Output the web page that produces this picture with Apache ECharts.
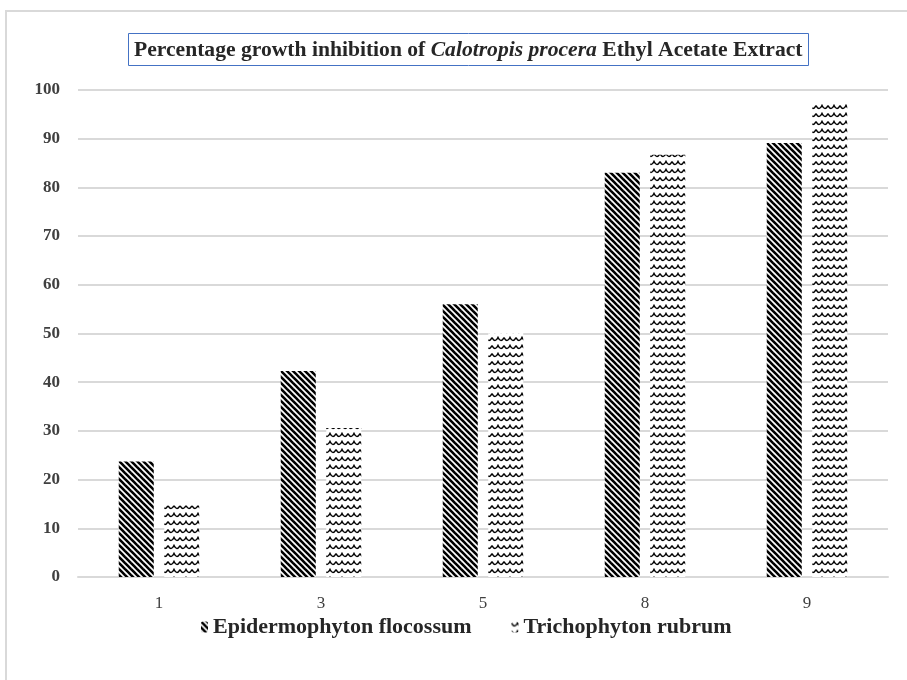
<!DOCTYPE html>
<html>
<head>
<meta charset="utf-8">
<title>Percentage growth inhibition</title>
<script src="https://cdn.jsdelivr.net/npm/echarts@6/dist/echarts.min.js"></script>
<style>
  html, body { margin: 0; padding: 0; background: #fff; }
  #chart { width: 907px; height: 680px; }
</style>
</head>
<body>
<div id="chart"></div>
<script>
var categories = ['1', '3', '5', '8', '9'];
var epidermophyton = [23.7, 42.3, 56.0, 83.0, 89.1];
var trichophyton = [14.7, 30.6, 50.1, 86.7, 97.3];
var yTicks = [0, 10, 20, 30, 40, 50, 60, 70, 80, 90, 100];

// diagonal stripe fill
function stripes() {
    var c = document.createElement('canvas');
    c.width = 6; c.height = 6;
    var g = c.getContext('2d');
    g.fillStyle = '#fff';
    g.fillRect(0, 0, 6, 6);
    g.strokeStyle = '#000';
    g.lineWidth = 2.6;
    for (var k = -6; k <= 6; k += 6) {
        g.beginPath();
        g.moveTo(k - 1, -1);
        g.lineTo(k + 7, 7);
        g.stroke();
    }
    return c;
}

// wavy fill
function waves() {
    var c = document.createElement('canvas');
    c.width = 12; c.height = 8;
    var g = c.getContext('2d');
    g.fillStyle = '#fff';
    g.fillRect(0, 0, 12, 8);
    g.strokeStyle = '#000';
    g.lineWidth = 1.6;
    g.beginPath();
    g.moveTo(0, 1.5);
    g.quadraticCurveTo(3, 7.5, 6, 1.5);
    g.quadraticCurveTo(9, 7.5, 12, 1.5);
    g.stroke();
    return c;
}

var chart = echarts.init(document.getElementById('chart'), null, { renderer: 'canvas' });
var serif = '"Liberation Serif", "Times New Roman", serif';

chart.setOption({
    backgroundColor: '#fff',
    animation: false,
    title: {
        text: '{b|Percentage growth inhibition of }{i|Calotropis procera}{b| Ethyl Acetate Extract}',
        left: 128,
        top: 32,
        borderColor: '#4472C4',
        borderWidth: 1,
        padding: [6, 6, 5, 6],
        textStyle: {
            rich: {
                b: { fontFamily: serif, fontWeight: 'bold', fontSize: 21.6, lineHeight: 24, color: '#262626' },
                i: { fontFamily: serif, fontStyle: 'italic', fontSize: 21.6, lineHeight: 24, color: '#262626' }
            }
        }
    },
    graphic: [{
        type: 'rect',
        shape: { x: 6, y: 11, width: 920, height: 700 },
        style: { fill: 'none', stroke: '#d9d9d9', lineWidth: 2 },
        silent: true
    }],
    legend: {
        top: 611,
        left: 196,
        itemWidth: 7,
        itemHeight: 11,
        itemGap: 40,
        textStyle: { fontFamily: serif, fontWeight: 'bold', fontSize: 22, color: '#262626' },
        data: ['Epidermophyton flocossum', 'Trichophyton rubrum']
    },
    grid: { left: 78, right: 19, top: 90, bottom: 103 },
    xAxis: {
        type: 'category',
        data: categories,
        axisLine: { lineStyle: { color: '#d9d9d9', width: 2 } },
        axisTick: { show: false },
        axisLabel: { margin: 18, fontFamily: serif, fontSize: 17, color: '#404040' }
    },
    yAxis: {
        type: 'value',
        min: yTicks[0],
        max: yTicks[yTicks.length - 1],
        interval: 10,
        axisLabel: { margin: 18, fontFamily: serif, fontWeight: 'bold', fontSize: 17, color: '#404040' },
        splitLine: { lineStyle: { color: '#d9d9d9', width: 2 } }
    },
    series: [
        {
            name: 'Epidermophyton flocossum',
            type: 'bar',
            data: epidermophyton,
            barWidth: 35,
            barGap: '30%',
            itemStyle: { color: { image: stripes(), repeat: 'repeat' } }
        },
        {
            name: 'Trichophyton rubrum',
            type: 'bar',
            data: trichophyton,
            barWidth: 35,
            itemStyle: { color: { image: waves(), repeat: 'repeat' } }
        }
    ]
});
</script>
</body>
</html>
